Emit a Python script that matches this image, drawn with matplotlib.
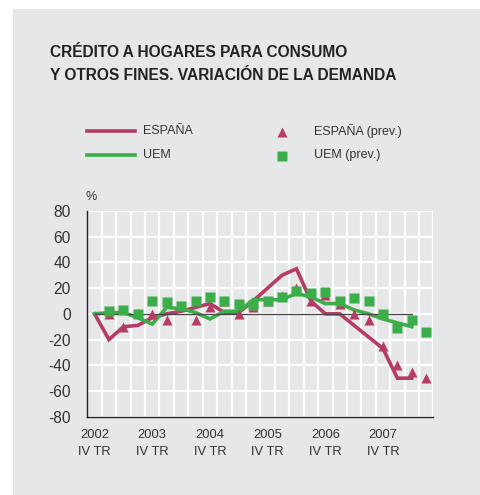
import matplotlib
matplotlib.use('Agg')
import matplotlib.pyplot as plt
from matplotlib.lines import Line2D
from matplotlib.patches import Rectangle
from matplotlib.ticker import MultipleLocator, FixedLocator

plt.rcParams['font.family'] = ['Liberation Sans', 'DejaVu Sans']
plt.rcParams['axes.unicode_minus'] = False

BG = '#e6e7e8'
RED = '#b63c63'
GREEN = '#3bae4a'
TXT = '#333333'

# quarters: index 0 = 2002 IV TR ... index 23 = 2008 III TR
years = ['2002', '2003', '2004', '2005', '2006', '2007']
year_pos = [0, 4, 8, 12, 16, 20]

# observed series (2002 IV TR .. 2008 II TR)
espana = [0, -20, -10, -9, -3, 0, 2, 5, 8, 1, 1, 10, 20, 30, 35, 10, 0, 0,
          -9, -18, -27, -50, -50]
uem = [0, 1, 1, -3, -8, 5, 4, 1, -4, 2, 2, 11, 11, 11, 16, 13, 8, 8,
       3, 0, -4, -7, -10]

# expected (prev.) series (2003 I TR .. 2008 III TR)
espana_prev = [0, -10, 1, 0, -5, 6, -5, 5, 10, 0, 5, 10, 14, 20, 10, 15, 8,
               0, -5, -25, -40, -45, -50]
uem_prev = [2, 3, 0, 10, 9, 6, 10, 13, 10, 8, 7, 10, 13, 18, 16, 17, 10,
            12, 10, 0, -11, -5, -14]

x_obs = list(range(len(espana)))
x_prev = list(range(1, 1 + len(espana_prev)))


def fx(px):
    return px / 480


def fy(py):
    return 1 - py / 495


fig = plt.figure(figsize=(4.8, 4.95), dpi=100, facecolor='white')
# grey panel, leaving a thin white margin at top and left
fig.patches.append(Rectangle((fx(13), 0), 1 - fx(13), fy(9), transform=fig.transFigure,
                             facecolor=BG, edgecolor='none', zorder=-10))

ax = fig.add_axes([0.182, 0.158, 0.721, 0.416])
ax.set_facecolor(BG)

ax.plot(x_obs, espana, color=RED, lw=2.6, zorder=3, solid_joinstyle='miter')
ax.plot(x_obs, uem, color=GREEN, lw=2.6, zorder=3.1, solid_joinstyle='miter')
ax.plot([0, len(espana) - 1], [0, 0], color='#444444', lw=0.9, zorder=3.2)
ax.plot(x_prev, espana_prev, ls='none', marker='^', ms=7.5, color=RED,
        mec='none', zorder=4)
ax.plot(x_prev, uem_prev, ls='none', marker='s', ms=6.8, color=GREEN,
        mec='none', zorder=5)

ax.set_xlim(-0.5, 23.5)
ax.set_ylim(-80, 80)
ax.yaxis.set_major_locator(MultipleLocator(20))
ax.xaxis.set_major_locator(FixedLocator(year_pos))
ax.set_xticklabels([y + '\nIV TR' for y in years], color=TXT, fontsize=9.3,
                   linespacing=1.55)
ax.xaxis.set_minor_locator(FixedLocator([k - 0.5 for k in range(25)]))
ax.tick_params(axis='y', length=0, pad=12, labelsize=11.2, labelcolor=TXT)
ax.tick_params(axis='x', which='both', length=0, pad=9)

ax.grid(True, which='major', axis='y', color='white', lw=1.6, zorder=0)
ax.grid(True, which='minor', axis='x', color='white', lw=1.6, zorder=0)
ax.set_axisbelow(True)
for s in ['top', 'right']:
    ax.spines[s].set_visible(False)
for s in ['left', 'bottom']:
    ax.spines[s].set_color('#222222')
    ax.spines[s].set_linewidth(1.0)

# titles
fig.text(fx(50), fy(57), 'CRÉDITO A HOGARES PARA CONSUMO',
         fontsize=11.2, fontweight='bold', color='#222222', va='baseline')
fig.text(fx(50), fy(80), 'Y OTROS FINES. VARIACIÓN DE LA DEMANDA',
         fontsize=11.2, fontweight='bold', color='#222222', va='baseline')
fig.text(fx(86), fy(200), '%', fontsize=9, color=TXT, va='baseline')

# legend
fig.add_artist(Line2D([fx(87), fx(135)], [fy(131), fy(131)], color=RED, lw=2.6))
fig.add_artist(Line2D([fx(87), fx(135)], [fy(155), fy(155)], color=GREEN, lw=2.6))
fig.add_artist(Line2D([fx(282)], [fy(132)], marker='^', ms=7.5, color=RED, mec='none'))
fig.add_artist(Line2D([fx(282)], [fy(156)], marker='s', ms=6.8, color=GREEN, mec='none'))
for x, y, t in [(143, 131, 'ESPAÑA'), (143, 155, 'UEM'),
                (314, 131, 'ESPAÑA (prev.)'), (314, 155, 'UEM (prev.)')]:
    fig.text(fx(x), fy(y), t, fontsize=9, color=TXT, va='center')

fig.savefig('out.png', dpi=100, facecolor='white')
